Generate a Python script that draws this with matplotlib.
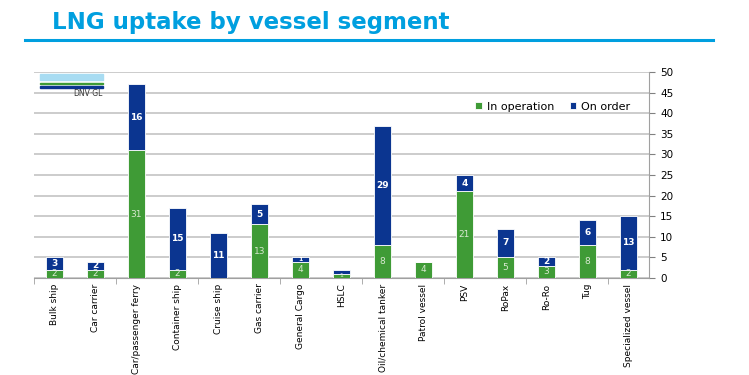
import matplotlib
matplotlib.use("Agg")
import matplotlib.pyplot as plt
import numpy as np
from matplotlib.patches import Rectangle
from matplotlib.lines import Line2D

categories = ["Bulk ship", "Car carrier", "Car/passenger ferry", "Container ship", "Cruise ship",
              "Gas carrier", "General Cargo", "HSLC", "Oil/chemical tanker", "Patrol vessel",
              "PSV", "RoPax", "Ro-Ro", "Tug", "Specialized vessel"]
in_operation = [2, 2, 31, 2, 0, 13, 4, 1, 8, 4, 21, 5, 3, 8, 2]
on_order = [3, 2, 16, 15, 11, 5, 1, 1, 29, 0, 4, 7, 2, 6, 13]
yticks = [0, 5, 10, 15, 20, 25, 30, 35, 40, 45, 50]

GREEN = "#3f9b36"
BLUE = "#0b3590"
TITLE_BLUE = "#009fdf"

fig = plt.figure(figsize=(7.49, 3.75), dpi=100)
W, H = 749, 375

def px(x0, y0, x1, y1):
    return [x0 / W, 1 - y1 / H, (x1 - x0) / W, (y1 - y0) / H]

# Title and underline
fig.text(52 / W, 1 - 22 / H, "LNG uptake by vessel segment", color=TITLE_BLUE,
         fontsize=16.5, fontweight="bold", va="center", ha="left", family="DejaVu Sans")
fig.add_artist(Line2D([25 / W, 713 / W], [1 - 40 / H, 1 - 40 / H], color=TITLE_BLUE, lw=2.2))

ax = fig.add_axes(px(34, 72, 649, 278))
x = np.arange(len(categories))
bw = 0.4
ax.bar(x, in_operation, bw, color=GREEN, edgecolor="white", linewidth=0.6, label="In operation", zorder=3)
ax.bar(x, on_order, bw, bottom=in_operation, color=BLUE, edgecolor="white", linewidth=0.6,
       label="On order", zorder=3)

for i in range(len(categories)):
    small = in_operation[i] <= 1 and on_order[i] <= 1
    if in_operation[i] > 0:
        ax.text(x[i], in_operation[i] / 2, str(in_operation[i]), color="#d8e8d0",
                fontsize=4.5 if in_operation[i] <= 1 else 6.5,
                ha="center", va="center", zorder=4)
    if on_order[i] > 0 and not small:
        ax.text(x[i], in_operation[i] + on_order[i] / 2, str(on_order[i]), color="white",
                fontsize=4.5 if on_order[i] <= 1 else 6.5,
                ha="center", va="center", zorder=4, fontweight="bold")

ax.set_xlim(-0.5, len(categories) - 0.5)
ax.set_ylim(0, 50)
ax.yaxis.tick_right()
ax.set_yticks(yticks)
ax.tick_params(axis="y", labelsize=7.5, length=4, color="#808080", pad=4)
ax.grid(axis="y", color="#c8c8c8", lw=1.3, zorder=0)
ax.set_xticks(x)
ax.set_xticklabels(categories, rotation=90, fontsize=6.5, va="top")
ax.tick_params(axis="x", length=0, pad=4)
ax.set_xticks(np.arange(-0.5, len(categories), 2), minor=True)
ax.tick_params(axis="x", which="minor", length=4, color="#a0a0a0")
for s in ["top", "left"]:
    ax.spines[s].set_visible(False)
ax.spines["right"].set_color("#a0a0a0")
ax.spines["bottom"].set_color("#a0a0a0")

leg = ax.legend(loc="upper right", bbox_to_anchor=(0.985, 0.905), ncol=2, frameon=False,
                fontsize=8, handlelength=0.6, handleheight=0.6, handletextpad=0.4, columnspacing=1.4)

# DNV GL logo
fig.add_artist(Rectangle((40 / W, 1 - 80 / H), 63 / W, 6 / H, color="#a8dcf2", transform=fig.transFigure))
fig.add_artist(Rectangle((40 / W, 1 - 84 / H), 63 / W, 1.5 / H, color=GREEN, transform=fig.transFigure))
fig.add_artist(Rectangle((40 / W, 1 - 87.5 / H), 63 / W, 2 / H, color=BLUE, transform=fig.transFigure))
fig.text(103 / W, 1 - 93 / H, "DNV·GL", fontsize=5.5, color="#333333", ha="right", va="center")

fig.savefig("out.png", dpi=100)
